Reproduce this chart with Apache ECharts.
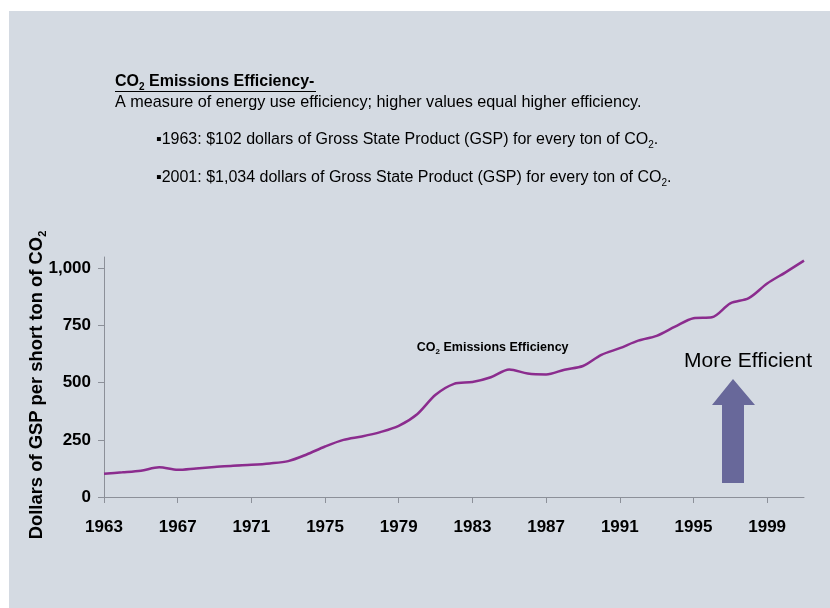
<!DOCTYPE html>
<html>
<head>
<meta charset="utf-8">
<script src="https://cdn.jsdelivr.net/npm/echarts@6/dist/echarts.min.js"></script>
<style>
  html, body { margin: 0; padding: 0; background: #ffffff; }
  #chart { width: 830px; height: 608px; }
</style>
</head>
<body>
<div id="chart"></div>
<script>
// ---- data ----
const years = [1963,1964,1965,1966,1967,1968,1969,1970,1971,1972,1973,1974,1975,1976,1977,1978,1979,1980,1981,1982,1983,1984,1985,1986,1987,1988,1989,1990,1991,1992,1993,1994,1995,1996,1997,1998,1999,2000,2001];
const efficiency = [102,108,115,130,119,125,131,137,141,147,157,186,221,250,265,284,311,362,447,495,503,524,558,540,536,557,573,622,651,684,705,745,782,786,847,870,934,983,1034];
const xTicks = [1963,1967,1971,1975,1979,1983,1987,1991,1995,1999];
const yTicks = [0,250,500,750,1000];
const seriesName = 'CO2 Emissions Efficiency';

const FONT = '"Liberation Sans", Arial, sans-serif';
const chart = echarts.init(document.getElementById('chart'), null, { renderer: 'canvas' });

const subRich = (size, weight) => ({
  n: { fontSize: size, fontWeight: weight, fontFamily: FONT, color: '#000', lineHeight: size + 4 },
  s: { fontSize: Math.round(size * 0.62), fontWeight: weight, fontFamily: FONT, color: '#000', verticalAlign: 'bottom', lineHeight: Math.round(size * 0.75) }
});

const option = {
  backgroundColor: '#ffffff',
  animation: false,
  grid: { left: 104, right: 26, top: 257, bottom: 111, containLabel: false },
  xAxis: {
    type: 'value', min: 1963, max: 2001,
    splitLine: { show: false },
    axisLine: { show: true, lineStyle: { color: '#8c9099', width: 1 } },
    axisTick: { show: true, length: 6, customValues: xTicks, lineStyle: { color: '#8c9099' } },
    axisLabel: { customValues: xTicks, margin: 22, fontSize: 17, fontWeight: 'bold', fontFamily: FONT, color: '#000', formatter: v => String(v) }
  },
  yAxis: {
    type: 'value', min: 0, max: 1050,
    splitLine: { show: false },
    axisLine: { show: true, lineStyle: { color: '#8c9099', width: 1 } },
    axisTick: { show: true, length: 6, customValues: yTicks, lineStyle: { color: '#8c9099' } },
    axisLabel: { customValues: yTicks, margin: 13, fontSize: 17, fontWeight: 'bold', fontFamily: FONT, color: '#000',
      formatter: v => v.toLocaleString('en-US') }
  },
  series: [{
    name: seriesName,
    type: 'line',
    data: years.map((y, i) => [y, efficiency[i]]),
    smooth: 0.3,
    showSymbol: false,
    lineStyle: { color: '#8b2c8e', width: 2.5 },
    markPoint: {
      symbol: 'circle',
      symbolSize: 1,
      itemStyle: { color: 'rgba(0,0,0,0)' },
      data: [{ coord: [1984.1, 652], value: 0 }],
      label: {
        show: true, position: 'inside',
        formatter: '{n|CO}{s|2}{n| Emissions Efficiency}',
        rich: subRich(12.5, 'bold')
      }
    }
  }],
  graphic: [
    { type: 'rect', z: -10, silent: true, shape: { x: 9, y: 11, width: 821, height: 597 }, style: { fill: '#d4dae2' } },
    { type: 'text', left: 115, top: 74, style: { text: '{n|CO}{s|2}{n| Emissions Efficiency-}', rich: subRich(16, 'bold') } },
    { type: 'line', shape: { x1: 115, y1: 91.5, x2: 316, y2: 91.5 }, style: { stroke: '#000', lineWidth: 1.2 } },
    { type: 'text', left: 115, top: 95, style: { text: 'A measure of energy use efficiency; higher values equal higher efficiency.', font: '16.2px ' + FONT, fill: '#000' } },
    { type: 'text', left: 156, top: 132, style: { text: '{n|▪1963: $102 dollars of Gross State Product (GSP) for every ton of CO}{s|2}{n|.}', rich: subRich(16, 'normal') } },
    { type: 'text', left: 156, top: 170, style: { text: '{n|▪2001: $1,034 dollars of Gross State Product (GSP) for every ton of CO}{s|2}{n|.}', rich: subRich(16, 'normal') } },
    { type: 'text', x: 37, y: 385, rotation: Math.PI / 2,
      style: { text: '{n|Dollars of GSP per short ton of CO}{s|2}', rich: subRich(18.4, 'bold'), align: 'center', verticalAlign: 'middle' } },
    { type: 'text', left: 684, top: 351, style: { text: 'More Efficient', font: '21px ' + FONT, fill: '#000' } },
    { type: 'polygon', shape: { points: [[733,379],[755,405],[744,405],[744,483],[722,483],[722,405],[712,405]] }, style: { fill: '#68689a' } }
  ]
};
chart.setOption(option);
</script>
</body>
</html>
